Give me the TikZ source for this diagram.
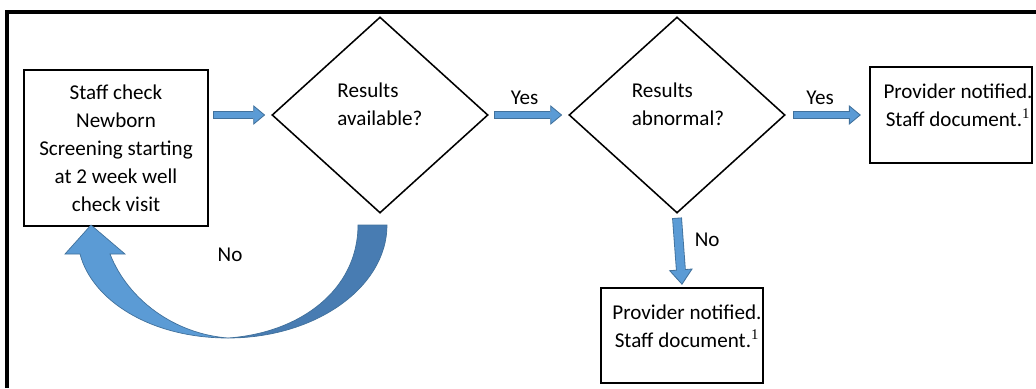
\documentclass[tikz,border=0pt]{standalone}
\usepackage{fontspec}
\setmainfont{Carlito}
\newfontfamily\notefont{Liberation Serif}
\usetikzlibrary{shapes.geometric,arrows.meta,calc}
\definecolor{arrowblue}{RGB}{91,155,213}
\definecolor{arrowedge}{RGB}{65,113,156}
\definecolor{arrowdark}{RGB}{72,124,178}
\tikzset{
  txt/.style={font=\fontsize{15}{20}\selectfont, inner sep=0pt, align=center},
  procbox/.style={draw, line width=1.6pt, inner sep=0pt, txt},
  decision/.style={draw, diamond, line width=1.1pt, inner sep=0pt,
    minimum width=5.4cm, minimum height=4.9cm},
  blockarrow/.style n args={3}{draw=arrowedge, line width=#1,
    -{Triangle[length=#3, width=#2, fill=arrowblue, line width=0.6pt]},
    postaction={draw=arrowblue, line width=#1-1.2pt, -,
      shorten >=#3-1pt, shorten <=0.6pt}},
  harrow/.style={blockarrow={5pt}{14pt}{8.5pt}},
  varrow/.style={blockarrow={7pt}{17pt}{11pt}}
}
\newcommand{\notemark}{\textsuperscript{\notefont 1}}
\begin{document}
\begin{tikzpicture}[x=0.025cm, y=-0.025cm]
  \useasboundingbox (0,0) rectangle (1036,388);
  \draw[line width=3pt] (7,388) -- (7,12) -- (1036,12);

  \node[procbox, minimum width=4.6cm, minimum height=3.9cm] (check) at (116,148)
    {Staff check\\Newborn\\Screening starting\\at 2 week well\\check visit};
  \node[decision] (avail) at (380,115) {};
  \node[txt, align=left] (availtxt) at (380,104) {Results\\available?};
  \node[decision] (abnormal) at (677,115) {};
  \node[txt, align=left] (abnormaltxt) at (678,104) {Results\\abnormal?};
  \node[procbox, minimum width=4.05cm, minimum height=2.4cm] (notifyA) at (951,115) {};
  \node[txt] (notifyAtxt) at (958,105) {Provider notified.\\Staff document.\notemark};
  \node[procbox, minimum width=4.05cm, minimum height=2.375cm] (notifyB) at (682,335.5) {};
  \node[txt] (notifyBtxt) at (687,326) {Provider notified.\\Staff document.\notemark};

  \draw[harrow] ($(check.east |- avail.west)+(4,0)$) -- ($(avail.west)+(-6,0)$);
  \draw[harrow] ($(avail.east)+(5,0)$) --
    node[txt, pos=0.45, above=5pt] (yesA) {Yes} ($(abnormal.west)+(-6,0)$);
  \draw[harrow] ($(abnormal.east)+(7,0)$) --
    node[txt, pos=0.4, above=5pt] (yesB) {Yes} ($(notifyA.west)+(-8,0)$);
  \draw[varrow] ($(abnormal.south)+(0,4)$) --
    node[txt, pos=0.33, right=8pt] (noB) {No} ($(notifyB.north)+(0,-2)$);

  \filldraw[fill=arrowdark, draw=arrowedge, line width=0.5pt]
    (358,225) -- (387,225) .. controls (387,287) and (316,338) .. (228,338)
    .. controls (300,333) and (358,290) .. (358,225) -- cycle;
  \filldraw[fill=arrowblue, draw=arrowedge, line width=0.5pt]
    (228,338) .. controls (150,338) and (92,300) .. (80,254)
    -- (65,254) -- (91,225) -- (125,254) -- (110,254)
    .. controls (128,300) and (175,334) .. (228,338) -- cycle;
  \node[txt] (noA) at (230,255) {No};
\end{tikzpicture}
\end{document}
